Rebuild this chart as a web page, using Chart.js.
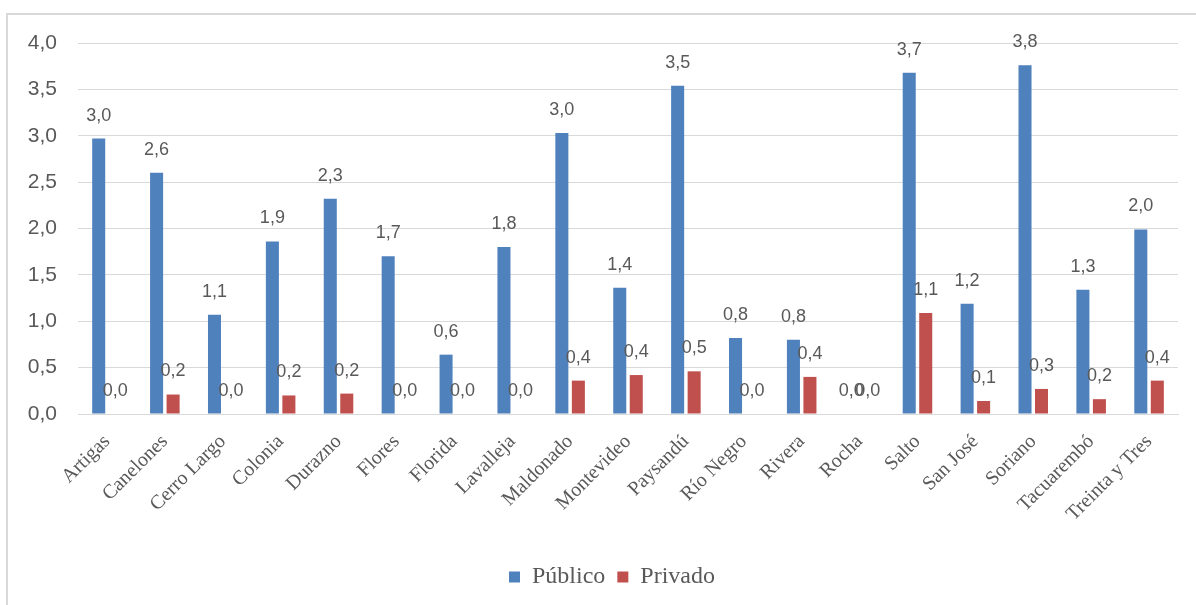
<!DOCTYPE html>
<html>
<head>
<meta charset="utf-8">
<script src="https://cdn.jsdelivr.net/npm/chart.js@4.4.1/dist/chart.umd.min.js"></script>
<style>
  html, body { margin: 0; padding: 0; background: #ffffff; }
  #wrap { position: relative; width: 1196px; height: 605px; overflow: hidden; }
  #frame { position: absolute; left: 6px; top: 13px; width: 1300px; height: 700px;
           border-top: 2px solid #D9D9D9; border-left: 2px solid #D9D9D9; box-sizing: border-box; }
  canvas { position: absolute; left: 0; top: 0; }
</style>
</head>
<body>
<div id="wrap">
  <div id="frame"></div>
  <canvas id="c" width="1196" height="605"></canvas>
</div>
<script>
const categories = ["Artigas","Canelones","Cerro Largo","Colonia","Durazno","Flores","Florida","Lavalleja","Maldonado","Montevideo","Paysandú","Río Negro","Rivera","Rocha","Salto","San José","Soriano","Tacuarembó","Treinta y Tres"];
const publico = [2.97, 2.60, 1.07, 1.86, 2.32, 1.70, 0.64, 1.80, 3.03, 1.36, 3.54, 0.82, 0.80, 0.0, 3.68, 1.19, 3.76, 1.34, 1.99];
const privado = [0.0, 0.21, 0.0, 0.20, 0.22, 0.0, 0.0, 0.0, 0.36, 0.42, 0.46, 0.0, 0.40, 0.0, 1.09, 0.14, 0.27, 0.16, 0.36];
const seriesNames = ["Público", "Privado"];
const yTicks = [0, 0.5, 1.0, 1.5, 2.0, 2.5, 3.0, 3.5, 4.0];

const fmt = v => v.toFixed(1).replace('.', ',');
const TEXT = '#595959';

const dataLabels = {
  id: 'dataLabels',
  afterDatasetsDraw(chart) {
    const ctx = chart.ctx;
    ctx.save();
    ctx.font = '18px "Liberation Sans", Arial, sans-serif';
    ctx.fillStyle = TEXT;
    ctx.textAlign = 'center';
    ctx.textBaseline = 'middle';
    chart.data.datasets.forEach((ds, i) => {
      const meta = chart.getDatasetMeta(i);
      meta.data.forEach((el, j) => {
        ctx.fillText(fmt(ds.data[j]), el.x, el.y - 23);
      });
    });
    ctx.restore();
  }
};

// nudge the legend slightly right of the canvas centre, as in the reference
const legendShift = {
  id: 'legendShift',
  afterLayout(chart) {
    const lg = chart.legend;
    if (!lg) return;
    const want = chart.width / 2 + 14;
    const have = (lg.left + lg.right) / 2;
    const d = want - have;
    lg.left += d; lg.right += d;
    if (lg.legendHitBoxes) lg.legendHitBoxes.forEach(b => { b.left += d; });
  }
};

new Chart(document.getElementById('c'), {
  type: 'bar',
  data: {
    labels: categories,
    datasets: [
      { label: seriesNames[0], data: publico, backgroundColor: '#4F81BD', borderWidth: 0,
        categoryPercentage: 0.57, barPercentage: 0.79 },
      { label: seriesNames[1], data: privado, backgroundColor: '#C0504D', borderWidth: 0,
        categoryPercentage: 0.57, barPercentage: 0.79 }
    ]
  },
  options: {
    responsive: false,
    animation: false,
    layout: { padding: { top: 43, right: 18, bottom: 6, left: 0 } },
    plugins: {
      legend: {
        position: 'bottom',
        labels: {
          boxWidth: 11, boxHeight: 11, padding: 12,
          color: TEXT,
          font: { family: '"Liberation Serif", "Times New Roman", serif', size: 24 }
        }
      },
      tooltip: { enabled: false }
    },
    scales: {
      x: {
        grid: { display: false },
        border: { display: true, color: '#D9D9D9', width: 1 },
        ticks: {
          color: TEXT, maxRotation: 45, minRotation: 45, padding: 8,
          font: { family: '"Liberation Serif", "Times New Roman", serif', size: 20 }
        },
        afterFit(s) { s.height = 139; }
      },
      y: {
        min: 0, max: 4,
        afterBuildTicks(s) { s.ticks = yTicks.map(v => ({ value: v })); },
        grid: { color: '#D9D9D9', lineWidth: 1, drawTicks: false },
        border: { display: false },
        ticks: {
          color: TEXT, padding: 21,
          font: { family: '"Liberation Sans", Arial, sans-serif', size: 21 },
          callback: v => fmt(v)
        },
        afterFit(s) { s.width = 78; }
      }
    }
  },
  plugins: [dataLabels, legendShift]
});
</script>
</body>
</html>
